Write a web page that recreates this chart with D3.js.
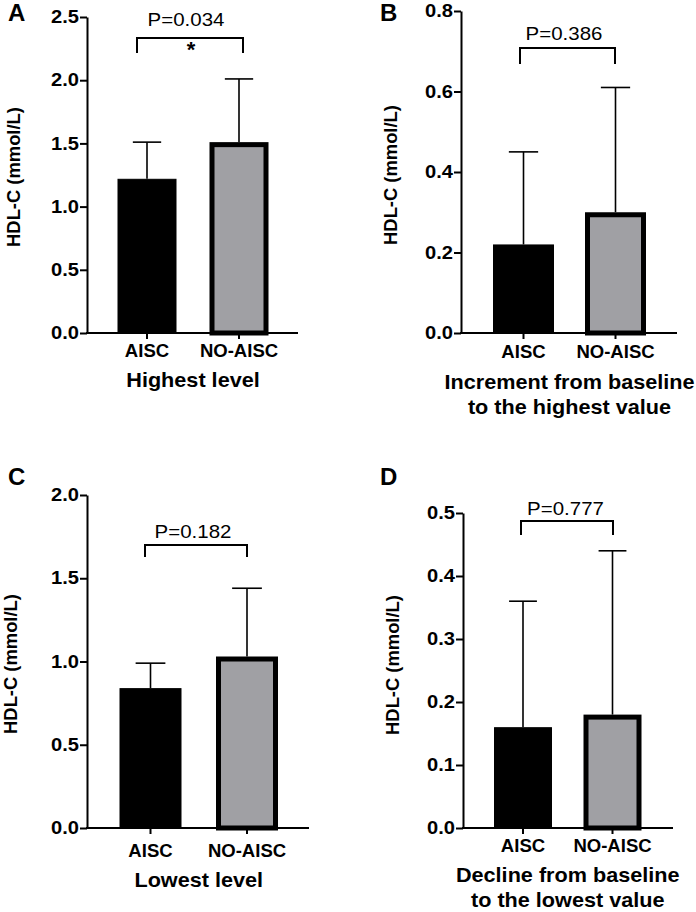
<!DOCTYPE html>
<html>
<head>
<meta charset="utf-8">
<script src="https://cdn.jsdelivr.net/npm/d3@7"></script>
<style>
  html, body { margin: 0; padding: 0; background: #fff; }
  svg { display: block; font-family: "Liberation Sans", Arial, Helvetica, sans-serif; }
</style>
</head>
<body>
<svg id="chart" width="696" height="912"></svg>
<script>
// ---------- data ----------
const categories = ["AISC", "NO-AISC"];

const meansA = [1.22, 1.51];
const sdA    = [0.29, 0.50];
const ticksA = [0, 0.5, 1.0, 1.5, 2.0, 2.5];
const pA = "P=0.034";

const meansB = [0.22, 0.30];
const sdB    = [0.23, 0.31];
const ticksB = [0, 0.2, 0.4, 0.6, 0.8];
const pB = "P=0.386";

const meansC = [0.84, 1.03];
const sdC    = [0.15, 0.41];
const ticksC = [0, 0.5, 1.0, 1.5, 2.0];
const pC = "P=0.182";

const meansD = [0.16, 0.18];
const sdD    = [0.20, 0.26];
const ticksD = [0, 0.1, 0.2, 0.3, 0.4, 0.5];
const pD = "P=0.777";

const yLabel = "HDL-C (mmol/L)";
const panelLetters = ["A", "B", "C", "D"];
const titlesA = ["Highest level"];
const titlesB = ["Increment from baseline", "to the highest value"];
const titlesC = ["Lowest level"];
const titlesD = ["Decline from baseline", "to the lowest value"];

// ---------- layout ----------
const panels = [
  { letter: panelLetters[0], means: meansA, sd: sdA, ticks: ticksA, p: pA, star: true, titles: titlesA,
    axisX: 87, y0: 333, yTop: 17, xEnd: 298, c0: 147, c1: 239, bw: 59,
    letterX: 8, letterY: 21, ylabX: 20, ylabY: 177, tickLabY: 357, titleY: 387,
    pX: 186, pY: 26, brL: 137, brR: 243, brTop: 38, brBot: 53 },
  { letter: panelLetters[1], means: meansB, sd: sdB, ticks: ticksB, p: pB, star: false, titles: titlesB,
    axisX: 461, y0: 333, yTop: 11, xEnd: 677, c0: 523.5, c1: 615.5, bw: 61,
    letterX: 380, letterY: 21, ylabX: 397, ylabY: 175, tickLabY: 358, titleY: 389,
    pX: 564, pY: 40, brL: 520, brR: 615, brTop: 48, brBot: 64 },
  { letter: panelLetters[2], means: meansC, sd: sdC, ticks: ticksC, p: pC, star: false, titles: titlesC,
    axisX: 87, y0: 828, yTop: 495, xEnd: 309, c0: 150.5, c1: 247, bw: 62,
    letterX: 8, letterY: 485, ylabX: 17, ylabY: 664, tickLabY: 857, titleY: 887,
    pX: 193, pY: 538, brL: 145, brR: 247, brTop: 545, brBot: 557 },
  { letter: panelLetters[3], means: meansD, sd: sdD, ticks: ticksD, p: pD, star: false, titles: titlesD,
    axisX: 463, y0: 828, yTop: 513, xEnd: 673, c0: 523, c1: 612.5, bw: 58,
    letterX: 380, letterY: 485, ylabX: 399, ylabY: 665, tickLabY: 852, titleY: 882,
    pX: 565.5, pY: 515, brL: 521, brR: 613, brTop: 521, brBot: 535 }
];

const fills = ["#000000", "#a0a0a4"];
const borderW = [1, 5];
const ink = "#000";

const svg = d3.select("#chart");

// text helper with horizontal stretch
function label(g, x, y, txt, size, weight, anchor, sx, rot) {
  return g.append("text")
    .attr("transform", `translate(${x},${y})` + (rot ? ` rotate(${rot})` : "") + ` scale(${sx},1)`)
    .attr("text-anchor", anchor).attr("fill", ink)
    .style("font-size", size + "px").style("font-weight", weight).text(txt);
}

panels.forEach(P => {
  const g = svg.append("g");
  const maxT = P.ticks[P.ticks.length - 1];
  const y = d3.scaleLinear().domain([0, maxT]).range([P.y0, P.yTop]);
  const x = d3.scalePoint().domain(categories).range([P.c0, P.c1]);

  // bars with upper error bars
  categories.forEach((c, i) => {
    const sw = borderW[i];
    const cx = x(c);
    const eTop = y(P.means[i] + P.sd[i]);
    g.append("line")
      .attr("x1", cx).attr("x2", cx)
      .attr("y1", y(P.means[i])).attr("y2", eTop)
      .attr("stroke", ink).attr("stroke-width", 1.6);
    g.append("line")
      .attr("x1", cx - P.bw * 0.24).attr("x2", cx + P.bw * 0.24)
      .attr("y1", eTop).attr("y2", eTop)
      .attr("stroke", ink).attr("stroke-width", 1.6);
    g.append("rect")
      .attr("x", cx - P.bw / 2 + sw / 2)
      .attr("width", P.bw - sw)
      .attr("y", y(P.means[i]) + sw / 2)
      .attr("height", y(0) - y(P.means[i]) - sw / 2)
      .attr("fill", fills[i])
      .attr("stroke", ink)
      .attr("stroke-width", sw);
  });

  // y axis
  const yAxis = d3.axisLeft(y).tickValues(P.ticks).tickFormat(d3.format(".1f"))
    .tickSize(7).tickPadding(2).tickSizeOuter(0);
  const ya = g.append("g").attr("transform", `translate(${P.axisX},0)`).call(yAxis);
  ya.select(".domain").attr("stroke", ink).attr("stroke-width", 2);
  ya.selectAll(".tick line").attr("stroke", ink).attr("stroke-width", 2);
  ya.selectAll(".tick text").attr("fill", ink)
    .attr("transform", "scale(1.15,1)")
    .attr("x", -8 / 1.15)
    .style("font-size", "17.5px").style("font-weight", "bold")
    .style("font-family", "'Liberation Sans', Arial, sans-serif");

  // x axis
  const xa = g.append("g").attr("transform", `translate(0,${P.y0})`);
  xa.append("line").attr("x1", P.axisX - 1).attr("x2", P.xEnd)
    .attr("y1", 0).attr("y2", 0).attr("stroke", ink).attr("stroke-width", 2);
  categories.forEach(c => {
    xa.append("line").attr("x1", x(c)).attr("x2", x(c)).attr("y1", 0).attr("y2", 6)
      .attr("stroke", ink).attr("stroke-width", 2);
    label(g, x(c), P.tickLabY, c, 17.5, "bold", "middle", 1.06);
  });

  // x title
  const mid = (x(categories[0]) + x(categories[1])) / 2;
  P.titles.forEach((t, k) => {
    label(g, mid, P.titleY + k * 25, t, 19.5, "bold", "middle", 1.11);
  });

  // y label
  label(g, P.ylabX, P.ylabY, yLabel, 17.5, "bold", "middle", 1.05, -90);

  // panel letter
  label(g, P.letterX, P.letterY, P.letter, 24, "bold", "start", 1.0);

  // bracket + p value
  g.append("path")
    .attr("d", `M${P.brL},${P.brBot}V${P.brTop}H${P.brR}V${P.brBot}`)
    .attr("fill", "none").attr("stroke", ink).attr("stroke-width", 2);
  label(g, P.pX, P.pY, P.p, 17.5, "normal", "middle", 1.17);
  if (P.star) {
    label(g, (P.brL + P.brR) / 2 + 1, P.brTop + 19, "*", 22, "bold", "middle", 1.0);
  }
});
</script>
</body>
</html>
